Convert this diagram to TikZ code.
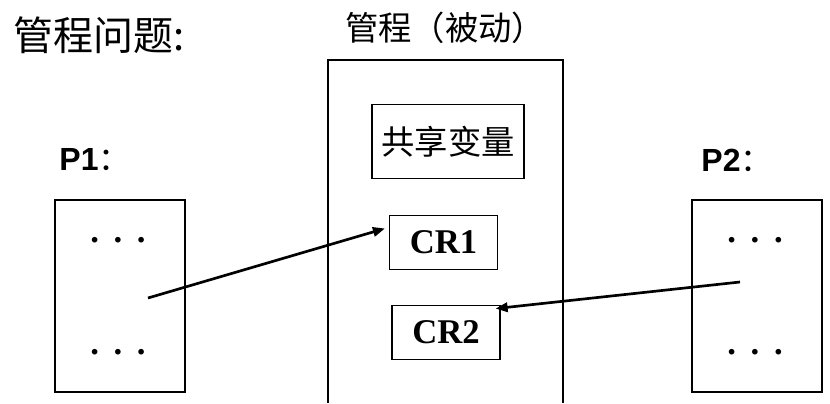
\documentclass[tikz,border=0pt]{standalone}
\usepackage{fontspec}
\setmainfont{Liberation Serif}
\setsansfont{Liberation Sans}
\newfontfamily\cjk{Noto Sans CJK SC}
\usetikzlibrary{arrows.meta,calc}

\begin{document}
\begin{tikzpicture}[x=0.75pt,y=-0.75pt]
  \tikzset{box/.style={draw,line width=0.9pt,inner sep=0pt},
    proc/.style={box,minimum width=97.5pt,minimum height=144pt},
    crit/.style={box,minimum width=81pt,minimum height=41pt,font=\fontsize{26}{28}\selectfont\bfseries},
    dots/.style={font=\fontsize{26}{28}\selectfont\bfseries},
    plabel/.style={font=\fontsize{24}{26}\selectfont\sffamily\bfseries},
    flow/.style={line width=2pt,-{Triangle[length=9pt,width=7pt]}}}
  \useasboundingbox (0,0) rectangle (830,403);
  % headings
  \node[font=\fontsize{30}{32}\selectfont\cjk] (title) at (99,35) {管程问题:};
  \node[font=\fontsize{25}{27}\selectfont\cjk] (montitle) at (445,28) {管程（被动）};
  % monitor, open at the bottom
  \draw[line width=0.9pt] (328,403) -- (328,60) -- (563,60) -- (563,403);
  \node[box,minimum width=114pt,minimum height=55pt,font=\fontsize{25}{27}\selectfont\cjk] (shared) at (448,141.5) {共享变量};
  \node[crit] (CR1) at (443.5,242.5) {CR1};
  \node[crit] (CR2) at (446,332.5) {CR2};
  % processes
  \node[plabel] (p1lab) at (95,160) {P1{\cjk\mdseries ：}};
  \node[plabel] (p2lab) at (737,160) {P2{\cjk\mdseries ：}};
  \node[proc] (P1) at (120,296) {};
  \node[proc] (P2) at (757,296) {};
  \node[dots] (p1top) at (118,240) {.\hspace{11pt}.\hspace{11pt}.};
  \node[dots] (p1bot) at (118,352) {.\hspace{11pt}.\hspace{11pt}.};
  \node[dots] (p2top) at (755,240) {.\hspace{11pt}.\hspace{11pt}.};
  \node[dots] (p2bot) at (755,352) {.\hspace{11pt}.\hspace{11pt}.};
  \coordinate (p1call) at (148,298);
  \coordinate (p2call) at (740,282);
  \draw[flow] (p1call) -- ($(CR1.west)+(-4,-14)$);
  \draw[flow] (p2call) -- ($(CR2.north east)+(-5,4)$);
\end{tikzpicture}
\end{document}
